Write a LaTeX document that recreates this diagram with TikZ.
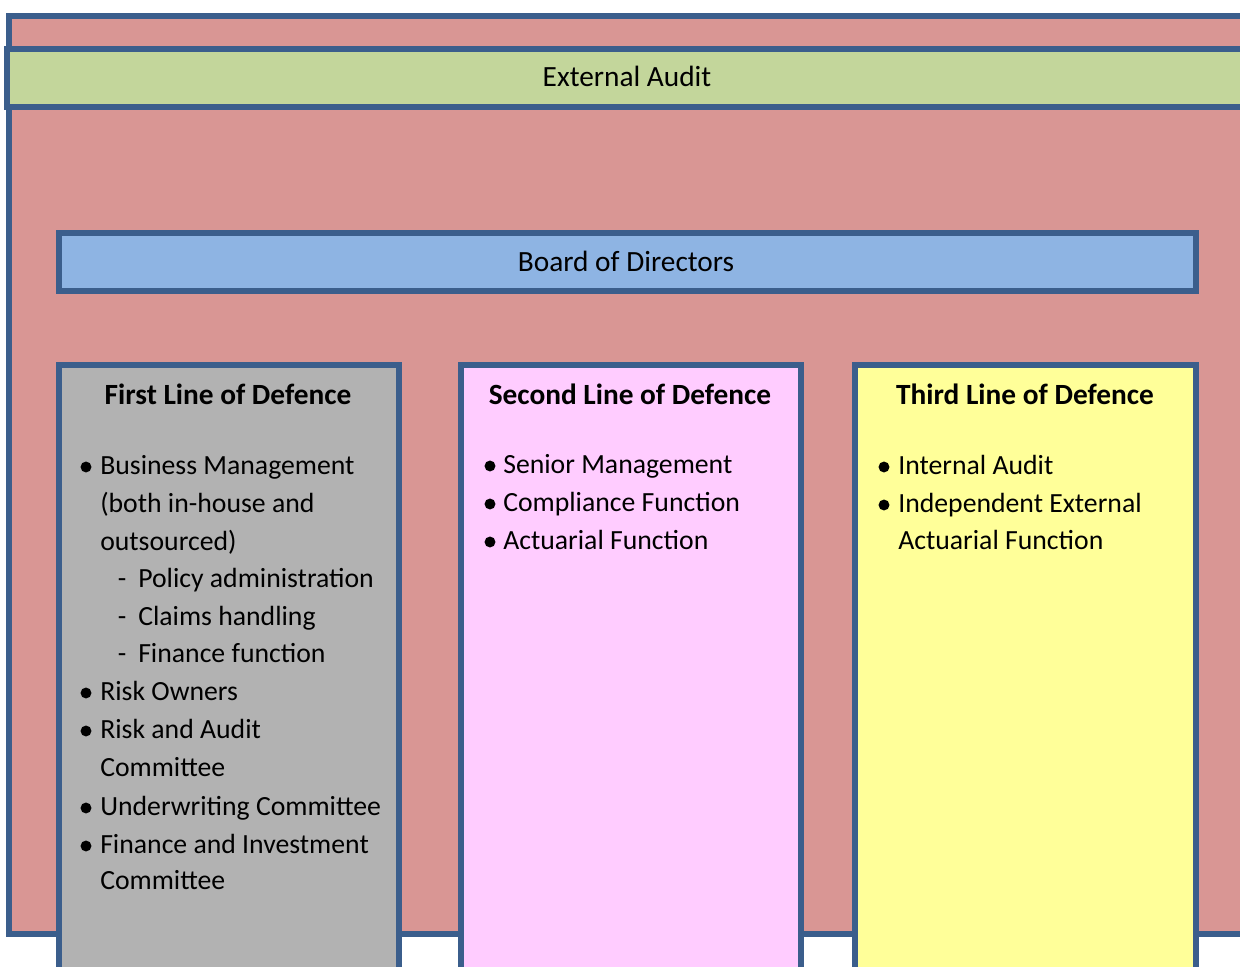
\documentclass[tikz,border=0pt]{standalone}
\usepackage{fontspec}
\setmainfont{Carlito}
\definecolor{frame}{HTML}{3B5E8C}
\definecolor{rosebg}{HTML}{D99694}
\definecolor{auditgreen}{HTML}{C3D69B}
\definecolor{boardblue}{HTML}{8EB4E3}
\definecolor{firstgray}{HTML}{B2B2B2}
\definecolor{secondpink}{HTML}{FFCCFF}
\definecolor{thirdyellow}{HTML}{FFFF99}
\tikzset{
  panel/.style={draw=frame, line width=3.8pt, line join=miter},
  label/.style={inner sep=0pt, font=\fontsize{20.8pt}{25pt}\selectfont},
  barlabel/.style={inner sep=0pt, anchor=base, font=\fontsize{22pt}{26pt}\selectfont},
  heading/.style={inner sep=0pt, anchor=base, font=\fontsize{22pt}{26pt}\selectfont\bfseries},
  item/.style={label, anchor=base west},
  dot/.style={label, anchor=base},
  bulletdot/.style={circle, fill=black, inner sep=0pt, minimum size=8.2pt},
}
\begin{document}
\begin{tikzpicture}[x=0.75pt,y=-0.75pt]
\useasboundingbox (0,0) rectangle (1240,967);
\clip (0,0) rectangle (1240,967);

% outer frame and horizontal bars
\draw[panel, fill=rosebg] (9,16) rectangle (1260,934);
\draw[panel, fill=auditgreen] (7,49) rectangle (1260,107);
\draw[panel, fill=boardblue] (59,233) rectangle (1196,291);
\node[barlabel] (extaudit) at (627,86) {External Audit};
\node[barlabel] (board) at (626,271) {Board of Directors};

% the three lines of defence
\draw[panel, fill=firstgray] (59,365) rectangle (399,990);
\draw[panel, fill=secondpink] (461,365) rectangle (801,990);
\draw[panel, fill=thirdyellow] (855,365) rectangle (1196,990);

\node[heading] (h1) at (228,404) {First Line of Defence};
\node[heading] (h2) at (630,404) {Second Line of Defence};
\node[heading] (h3) at (1025,404) {Third Line of Defence};

% first line items
\node[bulletdot] (b1) at (86,467) {};
\node[item] (t1a) at (100,474) {Business Management};
\node[item] (t1b) at (100,512) {(both in-house and};
\node[item] (t1c) at (100,550) {outsourced)};
\node[dot] (d1) at (122,587) {-};
\node[item] (s1) at (138,587) {Policy administration};
\node[dot] (d2) at (122,625) {-};
\node[item] (s2) at (138,625) {Claims handling};
\node[dot] (d3) at (122,662) {-};
\node[item] (s3) at (138,662) {Finance function};
\node[bulletdot] (b2) at (86,693) {};
\node[item] (t2) at (100,700) {Risk Owners};
\node[bulletdot] (b3) at (86,731) {};
\node[item] (t3a) at (100,738) {Risk and Audit};
\node[item] (t3b) at (100,776) {Committee};
\node[bulletdot] (b4) at (86,808) {};
\node[item] (t4) at (100,815) {Underwriting Committee};
\node[bulletdot] (b5) at (86,846) {};
\node[item] (t5a) at (100,853) {Finance and Investment};
\node[item] (t5b) at (100,889) {Committee};

% second line items
\node[bulletdot] (c1) at (490,466) {};
\node[item] (u1) at (503,473) {Senior Management};
\node[bulletdot] (c2) at (490,504) {};
\node[item] (u2) at (503,511) {Compliance Function};
\node[bulletdot] (c3) at (490,542) {};
\node[item] (u3) at (503,549) {Actuarial Function};

% third line items
\node[bulletdot] (e1) at (884,467) {};
\node[item] (v1) at (898,474) {Internal Audit};
\node[bulletdot] (e2) at (884,505) {};
\node[item] (v2a) at (898,512) {Independent External};
\node[item] (v2b) at (898,549) {Actuarial Function};
\end{tikzpicture}
\end{document}
